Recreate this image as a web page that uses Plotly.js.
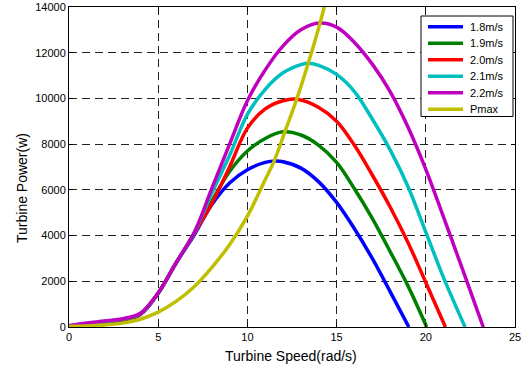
<!DOCTYPE html>
<html>
<head>
<meta charset="utf-8">
<script src="https://cdn.plot.ly/plotly-3.0.1.min.js"></script>
<style>
  html, body { margin: 0; padding: 0; background: #fff; }
  #chart { width: 522px; height: 367px; }
</style>
</head>
<body>
<div id="chart"></div>
<script>
// Turbine power vs. rotor speed for several wind speeds, plus the maximum-power curve.
const seriesNames = ['1.8m/s', '1.9m/s', '2.0m/s', '2.1m/s', '2.2m/s', 'Pmax'];

const speed18 = [0, 1, 2, 3, 4, 5, 6, 7, 8, 9, 10, 11, 11.6, 12, 13, 14, 15, 16, 17, 18, 19.05];
const power18 = [30, 110, 190, 300, 540, 1470, 2800, 4000, 5350, 6300, 6880, 7200, 7260, 7230, 6950, 6350, 5450, 4300, 3000, 1550, 0];

const speed19 = [0, 1, 2, 3, 4, 5, 6, 7, 8, 9, 10, 11, 12, 13, 14, 15, 16, 17, 18, 19, 20.05];
const power19 = [35, 125, 210, 315, 555, 1480, 2800, 4050, 5500, 6800, 7700, 8250, 8540, 8400, 7950, 7200, 6050, 4750, 3300, 1800, 0];

const speed20 = [0, 1, 2, 3, 4, 5, 6, 7, 8, 9, 10, 11, 12, 12.8, 14, 15, 16, 17, 18, 19, 20, 21.1];
const power20 = [40, 135, 225, 330, 570, 1490, 2800, 4080, 5400, 7000, 8700, 9540, 9900, 9960, 9600, 9000, 7950, 6650, 5250, 3700, 1950, 0];

const speed21 = [0, 1, 2, 3, 4, 5, 6, 7, 8, 9, 10, 11, 12, 13, 13.4, 14, 15, 16, 17, 18, 19, 20, 21, 22.2];
const power21 = [45, 150, 240, 345, 585, 1495, 2800, 4090, 5850, 7500, 9300, 10400, 11120, 11480, 11540, 11450, 11050, 10300, 9100, 7750, 6150, 4150, 2150, 0];

const speed22 = [0, 1, 2, 3, 4, 5, 6, 7, 8, 9, 10, 11, 12, 13, 14.05, 15, 16, 17, 18, 19, 20, 21, 22, 23.22];
const power22 = [60, 175, 260, 360, 600, 1500, 2800, 4100, 6050, 8000, 9900, 11250, 12300, 13000, 13295, 13120, 12450, 11500, 10300, 8750, 6900, 4800, 2650, 0];

const speedPmax = [0, 1, 2, 3, 4, 5, 6, 7, 8, 9, 10, 11, 11.5, 12.1, 12.76, 13.41, 14.07, 14.5];
const powerPmax = [30, 45, 90, 170, 340, 650, 1120, 1750, 2600, 3600, 4850, 6450, 7260, 8540, 9960, 11540, 13295, 14600];

const xTicks = [0, 5, 10, 15, 20, 25];
const yTicks = [0, 2000, 4000, 6000, 8000, 10000, 12000, 14000];

const lineColors = ['#0000ff', '#008000', '#ff0000', '#00bfbf', '#bf00bf', '#bfbf00'];

const xs = [speed18, speed19, speed20, speed21, speed22, speedPmax];
const ys = [power18, power19, power20, power21, power22, powerPmax];

const W = 522, H = 367;
const M = { l: 69, r: 7, t: 7, b: 40 };
const plotW = W - M.l - M.r, plotH = H - M.t - M.b;
const px2x = px => (px - M.l) / plotW;
const py2y = py => (H - M.b - py) / plotH;

const FONT = '"Liberation Sans", Arial, Helvetica, sans-serif';

const traces = xs.map((x, i) => ({
  x: x,
  y: ys[i],
  type: 'scatter',
  mode: 'lines',
  name: seriesNames[i],
  line: { color: lineColors[i], width: 3.5, shape: 'spline', smoothing: 1 },
  hoverinfo: 'skip'
}));

// Legend drawn as a boxed key in the upper-right corner of the axes.
const shapes = [{
  type: 'rect', xref: 'paper', yref: 'paper',
  x0: px2x(421), x1: px2x(513), y0: py2y(116.5), y1: py2y(16),
  line: { color: '#000', width: 1 }, fillcolor: '#fff', layer: 'above'
}];
const annotations = [];
const rowTop = 26.7, rowStep = 16.5;
seriesNames.forEach((name, i) => {
  const py = rowTop + i * rowStep;
  shapes.push({
    type: 'line', xref: 'paper', yref: 'paper',
    x0: px2x(428), x1: px2x(463), y0: py2y(py), y1: py2y(py),
    line: { color: lineColors[i], width: 3.5 }, layer: 'above'
  });
  annotations.push({
    xref: 'paper', yref: 'paper', x: px2x(468), y: py2y(py),
    xanchor: 'left', yanchor: 'middle', showarrow: false,
    text: name, font: { family: FONT, size: 11, color: '#000' }
  });
});

annotations.push({
  xref: 'paper', yref: 'paper', x: px2x(291), y: py2y(356),
  xanchor: 'center', yanchor: 'middle', showarrow: false,
  text: 'Turbine Speed(rad/s)', font: { family: FONT, size: 14, color: '#000' }
});
annotations.push({
  xref: 'paper', yref: 'paper', x: px2x(22), y: py2y(188),
  xanchor: 'center', yanchor: 'middle', showarrow: false, textangle: -90,
  text: 'Turbine Power(w)', font: { family: FONT, size: 14, color: '#000' }
});

const axisCommon = {
  showline: true, linecolor: '#000', linewidth: 1, mirror: 'ticks',
  ticks: 'inside', ticklen: 4, tickcolor: '#000', tickwidth: 1,
  showgrid: true, gridcolor: '#222', gridwidth: 1, griddash: '8px,5px',
  zeroline: false, tickfont: { family: FONT, size: 11, color: '#000' },
  fixedrange: true
};

const layout = {
  width: W, height: H,
  margin: M,
  paper_bgcolor: '#fff', plot_bgcolor: '#fff',
  showlegend: false,
  font: { family: FONT, color: '#000' },
  xaxis: Object.assign({}, axisCommon, {
    range: [0, 25], tickmode: 'array', tickvals: xTicks, ticktext: xTicks.map(String)
  }),
  yaxis: Object.assign({}, axisCommon, {
    range: [0, 14000], tickmode: 'array', tickvals: yTicks, ticktext: yTicks.map(String)
  }),
  shapes: shapes,
  annotations: annotations
};

Plotly.newPlot('chart', traces, layout, { staticPlot: true, displayModeBar: false });
</script>
</body>
</html>
